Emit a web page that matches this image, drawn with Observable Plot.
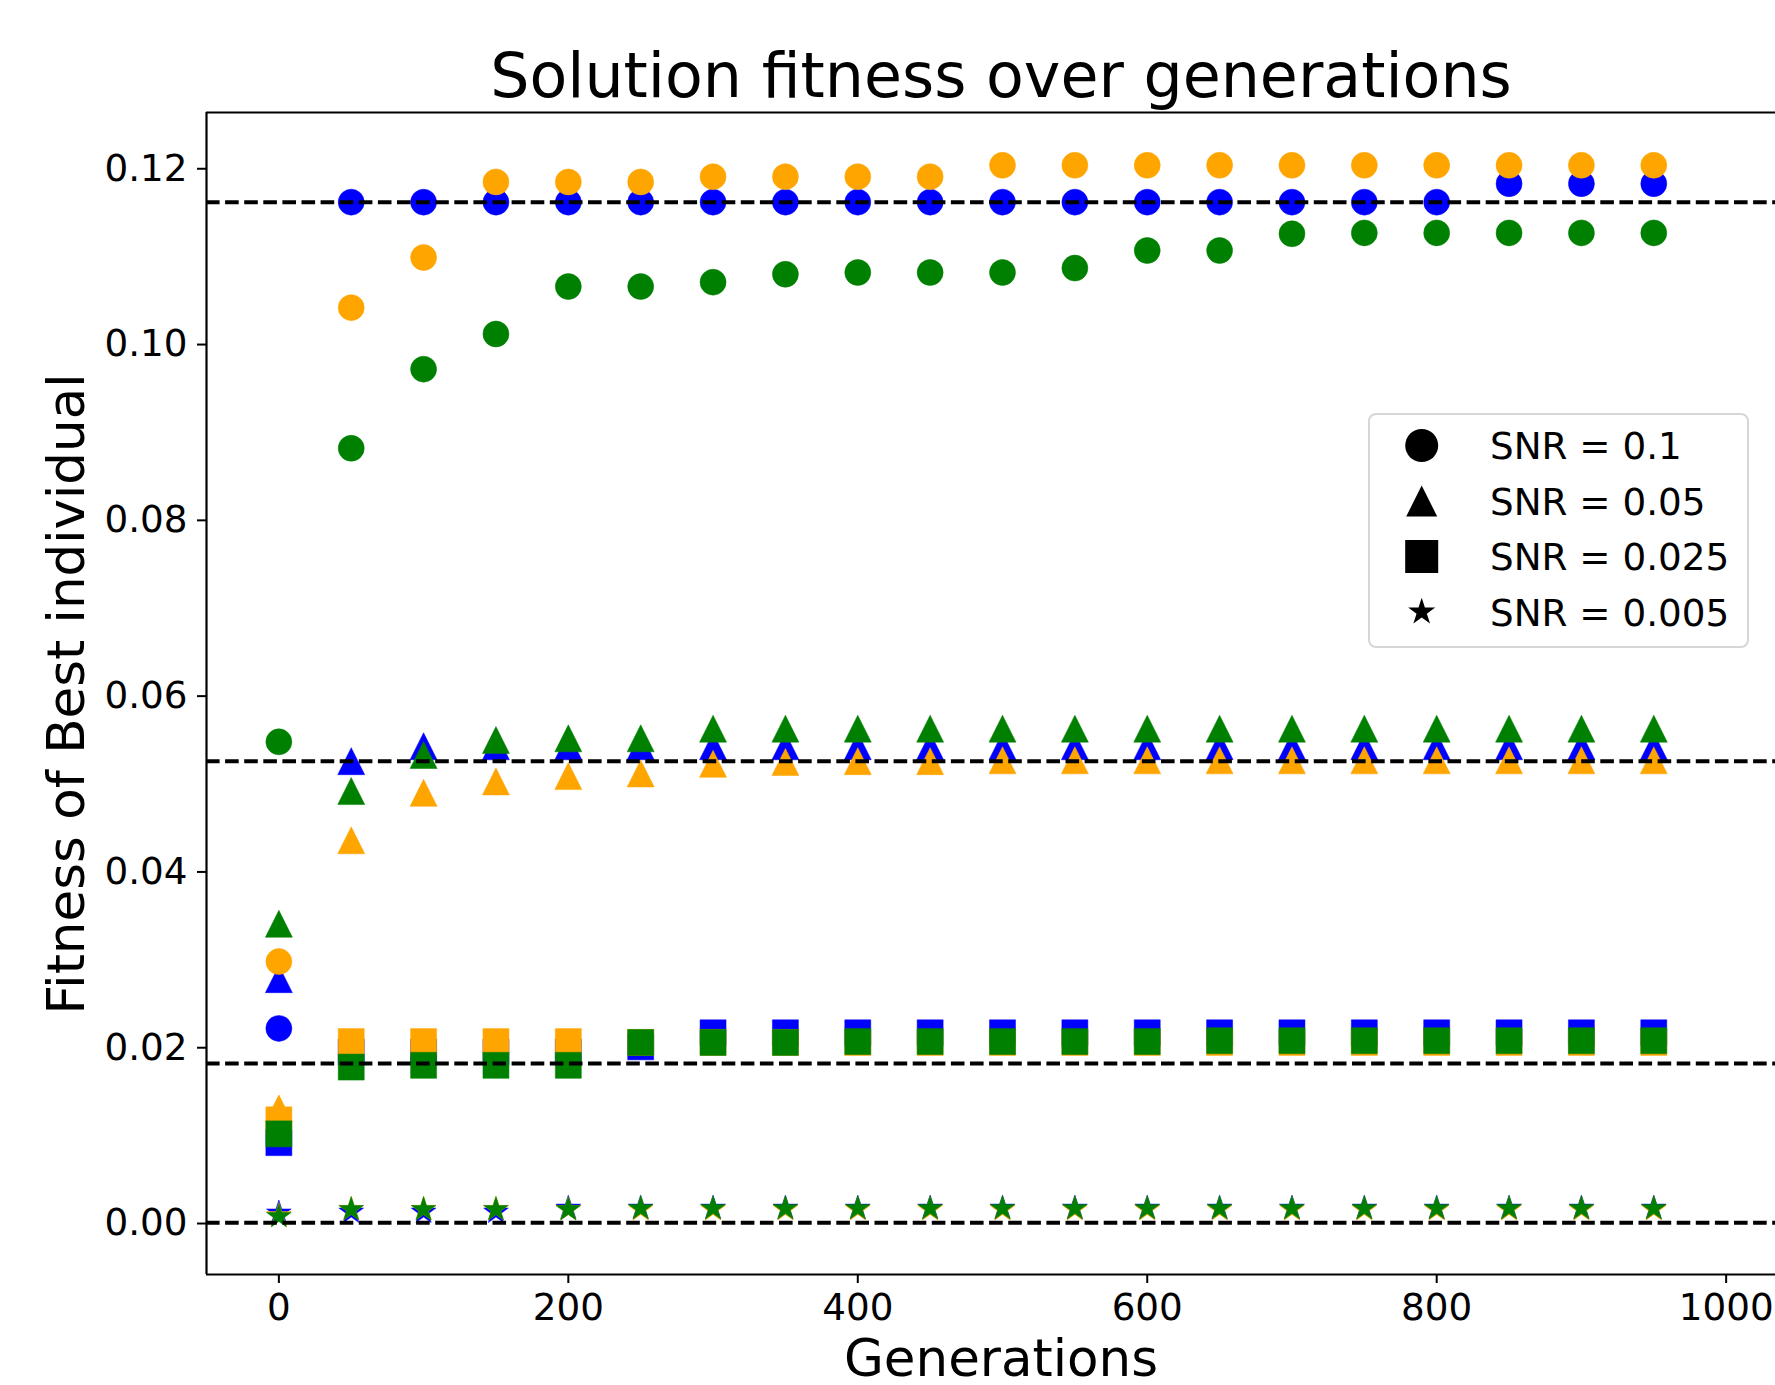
<!DOCTYPE html>
<html>
<head>
<meta charset="utf-8">
<script src="https://cdn.jsdelivr.net/npm/d3@7"></script>
<script src="https://cdn.jsdelivr.net/npm/@observablehq/plot@0.6"></script>
<style>
html, body { margin: 0; padding: 0; background: #fff; overflow: hidden; }
#wrap { position: relative; width: 1775px; height: 1385px; font-family: "DejaVu Sans", sans-serif; color: #000; }
#chart { position: absolute; left: 0; top: 0; }
.lbl { position: absolute; white-space: nowrap; }
#title { left: 1001px; top: 45px; transform: translateX(-50%); font-size: 61.8px; line-height: 62px; }
#xlabel { left: 1001px; top: 1332px; transform: translateX(-50%); font-size: 51.5px; line-height: 52px; }
#ylabel { left: -334px; top: 667.5px; width: 800px; text-align: center; font-size: 51.5px; line-height: 52px; transform: rotate(-90deg); }
#legend { position: absolute; left: 1368px; top: 413px; }
</style>
</head>
<body>
<div id="wrap">
  <div id="chart"></div>
  <div id="title" class="lbl">Solution fitness over generations</div>
  <div id="xlabel" class="lbl">Generations</div>
  <div id="ylabel" class="lbl">Fitness of Best individual</div>
  <div id="legend"></div>
</div>
<script>
// ---------------- data ----------------
const generations = [0, 50, 100, 150, 200, 250, 300, 350, 400, 450, 500, 550, 600, 650, 700, 750, 800, 850, 900, 950];

// SNR = 0.1 (circles)
const blueCircle   = [0.0222, 0.1162, 0.1162, 0.1162, 0.1162, 0.1162, 0.1162, 0.1162, 0.1162, 0.1162, 0.1162, 0.1162, 0.1162, 0.1162, 0.1162, 0.1162, 0.1162, 0.1183, 0.1183, 0.1183];
const orangeCircle = [0.0298, 0.1042, 0.1099, 0.1185, 0.1185, 0.1185, 0.1191, 0.1191, 0.1191, 0.1191, 0.1204, 0.1204, 0.1204, 0.1204, 0.1204, 0.1204, 0.1204, 0.1204, 0.1204, 0.1204];
const greenCircle  = [0.0548, 0.0882, 0.0972, 0.1012, 0.1066, 0.1066, 0.1071, 0.1080, 0.1082, 0.1082, 0.1082, 0.1087, 0.1107, 0.1107, 0.1126, 0.1127, 0.1127, 0.1127, 0.1127, 0.1127];

// SNR = 0.05 (triangles)
const blueTriangle   = [0.0278, 0.0526, 0.0543, 0.0543, 0.0543, 0.0543, 0.0543, 0.0543, 0.0543, 0.0543, 0.0543, 0.0543, 0.0543, 0.0543, 0.0543, 0.0543, 0.0543, 0.0543, 0.0543, 0.0543];
const orangeTriangle = [0.0131, 0.0436, 0.0490, 0.0503, 0.0509, 0.0512, 0.0523, 0.0525, 0.0526, 0.0526, 0.0527, 0.0527, 0.0527, 0.0527, 0.0527, 0.0527, 0.0527, 0.0527, 0.0527, 0.0527];
const greenTriangle  = [0.0341, 0.0492, 0.0533, 0.0550, 0.0552, 0.0552, 0.0563, 0.0563, 0.0563, 0.0563, 0.0563, 0.0563, 0.0563, 0.0563, 0.0563, 0.0563, 0.0563, 0.0563, 0.0563, 0.0563];

// SNR = 0.025 (squares)
const blueSquare   = [0.0092, 0.0195, 0.0195, 0.0195, 0.0195, 0.0201, 0.0217, 0.0217, 0.0217, 0.0217, 0.0217, 0.0217, 0.0217, 0.0217, 0.0217, 0.0217, 0.0217, 0.0217, 0.0217, 0.0217];
const orangeSquare = [0.0118, 0.0207, 0.0207, 0.0207, 0.0207, 0.0206, 0.0206, 0.0206, 0.0206, 0.0206, 0.0206, 0.0206, 0.0206, 0.0206, 0.0206, 0.0206, 0.0206, 0.0206, 0.0206, 0.0206];
const greenSquare  = [0.0102, 0.0178, 0.0180, 0.0180, 0.0180, 0.0206, 0.0206, 0.0206, 0.0207, 0.0207, 0.0207, 0.0207, 0.0207, 0.0208, 0.0208, 0.0208, 0.0208, 0.0208, 0.0208, 0.0208];

// SNR = 0.005 (stars)
const blueStar   = [0.0012, 0.0013, 0.0013, 0.0013, 0.00175, 0.00175, 0.00175, 0.00175, 0.00175, 0.00175, 0.00175, 0.00175, 0.00175, 0.00175, 0.00175, 0.00175, 0.00175, 0.00175, 0.00175, 0.00175];
const orangeStar = [0.0009, 0.0016, 0.0016, 0.0016, 0.0016, 0.0016, 0.0016, 0.0016, 0.0016, 0.0016, 0.0016, 0.0016, 0.0016, 0.0016, 0.0016, 0.0016, 0.0016, 0.0016, 0.0016, 0.0016];
const greenStar  = [0.0008, 0.0016, 0.0016, 0.0016, 0.0016, 0.0017, 0.0017, 0.0017, 0.0017, 0.0017, 0.0017, 0.0017, 0.0017, 0.0017, 0.0017, 0.0017, 0.0017, 0.0017, 0.0017, 0.0017];

// reference (dashed) levels
const referenceLevels = [0.1162, 0.0526, 0.0182, 0.0001];

const legendLabels = ["SNR = 0.1", "SNR = 0.05", "SNR = 0.025", "SNR = 0.005"];
const xTicks = [0, 200, 400, 600, 800, 1000];
const yTicks = [0.00, 0.02, 0.04, 0.06, 0.08, 0.10, 0.12];
const xDomain = [-50, 1034.1];
const yDomain = [-0.0058, 0.1264];

// ---------------- matplotlib-like symbols ----------------
const R = size => Math.sqrt(size / Math.PI);
const mplCircle = { draw(c, s) { const r = R(s); c.moveTo(r, 0); c.arc(0, 0, r, 0, 2 * Math.PI); c.closePath(); } };
const mplTriangle = { draw(c, s) { const h = R(s); c.moveTo(0, -h); c.lineTo(h, h); c.lineTo(-h, h); c.closePath(); } };
const mplSquare = { draw(c, s) { const h = R(s); c.rect(-h, -h, 2 * h, 2 * h); } };
const mplStar = { draw(c, s) {
  const r = R(s), ri = r * 0.381966;
  for (let i = 0; i < 10; i++) {
    const a = -Math.PI / 2 + i * Math.PI / 5, rr = i % 2 === 0 ? r : ri;
    const px = rr * Math.cos(a), py = rr * Math.sin(a);
    if (i === 0) c.moveTo(px, py); else c.lineTo(px, py);
  }
  c.closePath();
} };

const shapes = [
  { symbol: mplCircle, r: 13 },
  { symbol: mplTriangle, r: 13.5 },
  { symbol: mplSquare, r: 13 },
  { symbol: mplStar, r: 13 }
];
const methods = [
  { color: "#0000ff", series: [blueCircle, blueTriangle, blueSquare, blueStar] },
  { color: "#ffa500", series: [orangeCircle, orangeTriangle, orangeSquare, orangeStar] },
  { color: "#008000", series: [greenCircle, greenTriangle, greenSquare, greenStar] }
];

const dotMarks = [];
for (const m of methods) {
  m.series.forEach((vals, k) => {
    const rows = generations.map((g, i) => ({ generation: g, fitness: vals[i] }));
    dotMarks.push(Plot.dot(rows, {
      x: "generation", y: "fitness",
      symbol: shapes[k].symbol, r: shapes[k].r,
      fill: m.color, stroke: m.color, strokeWidth: 0.5
    }));
  });
}

const chart = Plot.plot({
  width: 1775, height: 1385,
  marginLeft: 206, marginRight: 0, marginTop: 112, marginBottom: 111,
  x: { domain: xDomain },
  y: { domain: yDomain },
  style: { fontFamily: "DejaVu Sans", fontSize: "37px", color: "black", background: "transparent", overflow: "visible" },
  marks: [
    ...dotMarks,
    Plot.ruleY(referenceLevels, { stroke: "black", strokeWidth: 4, strokeDasharray: "13.6 5.5" }),
    Plot.ruleX([xDomain[0]], { stroke: "black", strokeWidth: 2.2 }),
    Plot.ruleY(yDomain, { stroke: "black", strokeWidth: 2.2 }),
    Plot.axisY({ ticks: yTicks, tickFormat: d3.format(".2f"), tickSize: 9, tickPadding: 10, fontSize: 37.3, label: null, strokeWidth: 2 }),
    Plot.axisX({ ticks: xTicks, tickFormat: d => String(d), tickSize: 9, tickPadding: 10, fontSize: 37.3, label: null, strokeWidth: 2 })
  ]
});
document.getElementById("chart").appendChild(chart);

// ---------------- legend ----------------
const lw = 381, lh = 235;
const lsvg = d3.select("#legend").append("svg").attr("width", lw).attr("height", lh)
  .style("font-family", "DejaVu Sans").style("overflow", "visible");
lsvg.append("rect").attr("x", 1).attr("y", 1).attr("width", lw - 2).attr("height", lh - 2)
  .attr("rx", 7).attr("fill", "white").attr("fill-opacity", 0.8).attr("stroke", "#d6d6d6").attr("stroke-width", 2);
const legendSizes = [16.5, 15.5, 16.5, 14.2];
const rowY = [32.5, 88, 143.5, 199];
legendLabels.forEach((t, i) => {
  lsvg.append("path")
    .attr("d", d3.symbol(shapes[i].symbol, Math.PI * legendSizes[i] * legendSizes[i])())
    .attr("transform", `translate(53.7,${rowY[i]})`).attr("fill", "black");
  lsvg.append("text").attr("x", 122).attr("y", rowY[i] + 13.5).attr("font-size", 37.3).attr("fill", "black").text(t);
});
</script>
</body>
</html>
